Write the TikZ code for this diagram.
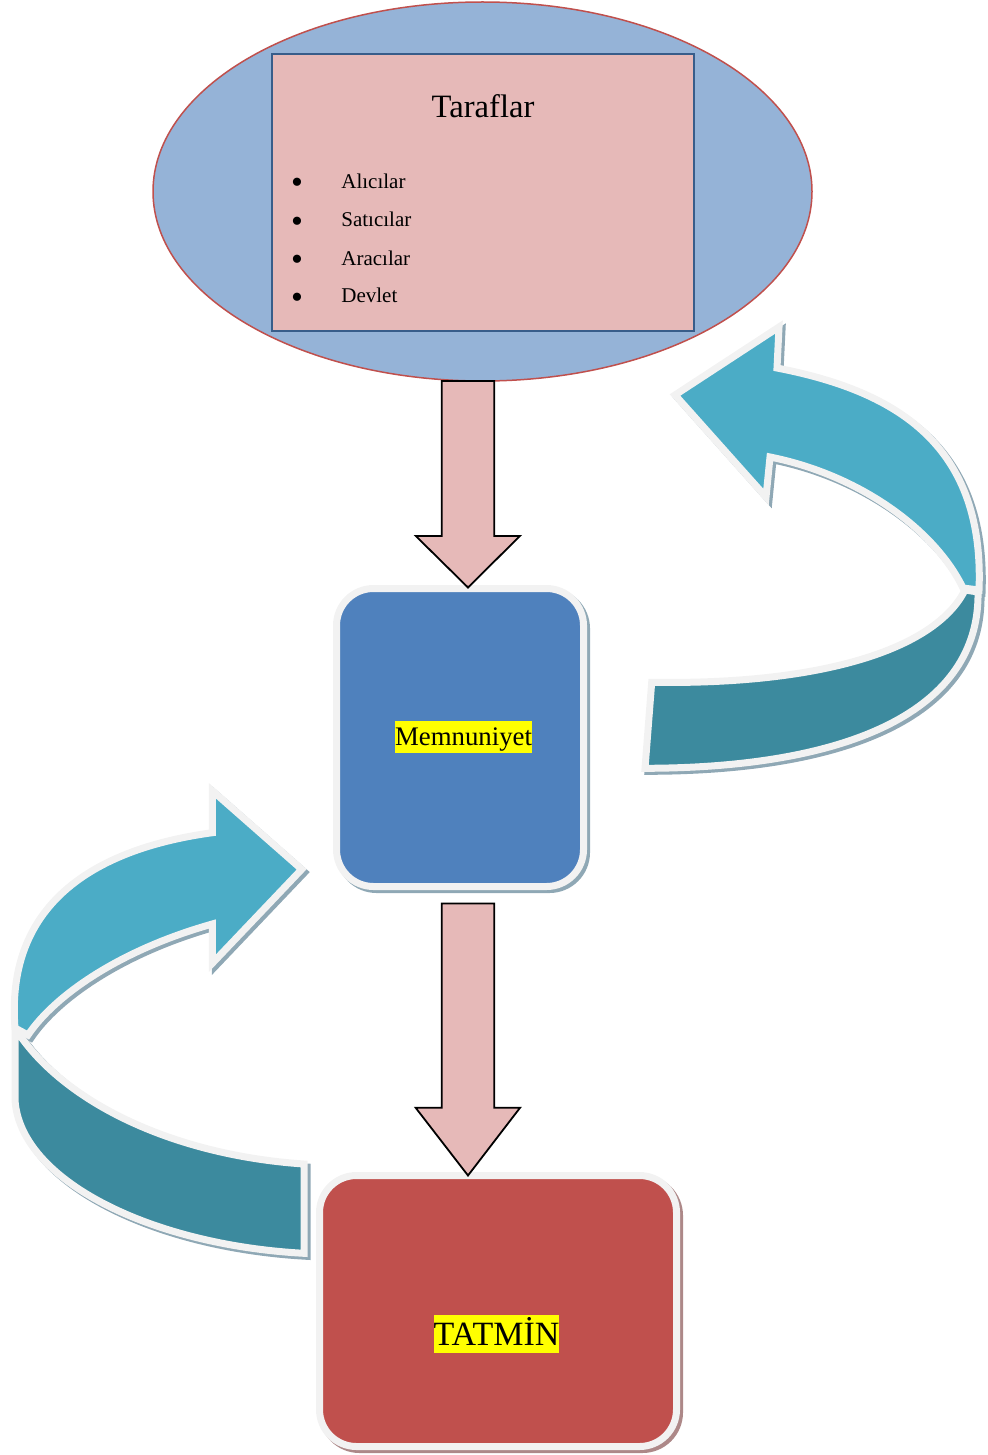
\documentclass[tikz,border=0pt]{standalone}
\usepackage{fontspec}
\setmainfont{Liberation Serif}
\usetikzlibrary{shapes.geometric,calc,backgrounds}

\definecolor{ovalfill}{HTML}{95B3D7}
\definecolor{ovalline}{HTML}{C0504D}
\definecolor{listfill}{HTML}{E6B9B8}
\definecolor{listline}{HTML}{385D8A}
\definecolor{satfill}{HTML}{4F81BD}
\definecolor{tatfill}{HTML}{C0504D}
\definecolor{rim}{HTML}{F2F2F2}
\definecolor{tealback}{HTML}{4BACC6}
\definecolor{tealfront}{HTML}{3C8A9E}
\definecolor{shadowblue}{HTML}{8FA8B5}
\definecolor{shadowred}{HTML}{AD8888}
\definecolor{hilite}{HTML}{FFFF00}

% Curved feedback ribbons: back (light) half with the head, front (dark) half with the tail
\newcommand\ribbonRback[1]{\path[#1] (675,395) -- (779,327) -- (777,368)
  .. controls (890,390) and (985,440) .. (979,590) -- (963,588)
  .. controls (935,530) and (860,475) .. (770,457) -- (766,497) -- cycle;}
\newcommand\ribbonRfront[1]{\path[#1] (651.7,682.3)
  .. controls (820,685) and (935,650) .. (965,590) -- (978,592)
  .. controls (980,710) and (850,768) .. (645,768.3) -- cycle;}
\newcommand\ribbonLback[1]{\path[#1] (301.7,869.3) -- (212.3,790.7) -- (212.3,832.7)
  .. controls (100,848) and (5,900) .. (15,1028) -- (28,1035)
  .. controls (55,995) and (120,950) .. (212.3,924) -- (212.3,963.3) -- cycle;}
\newcommand\ribbonLfront[1]{\path[#1] (15,1028)
  .. controls (60,1100) and (170,1155) .. (304,1164) -- (304,1253.3)
  .. controls (150,1245) and (20,1180) .. (15,1100) -- cycle;}

\begin{document}
\begin{tikzpicture}[x=0.5pt,y=-0.5pt,
  rimmed/.style={draw=rim,line width=3.5pt,line join=miter},
  ribshadow/.style={fill=shadowblue,draw=shadowblue,line width=3.5pt,shift={(3,3)}},
  stagebox/.style={rectangle,rounded corners=18.5pt,draw=rim,line width=3.5pt,
    inner sep=0pt,outer sep=0pt},
  blockarrow/.style={fill=listfill,draw=black,line width=0.9pt,line join=miter},
  marked/.style={fill=hilite,inner xsep=0pt,inner ysep=0pt,text=black},
  listitem/.style={anchor=base west,inner sep=0pt,font=\fontsize{10.5}{12}\selectfont},
  dot/.style={anchor=center,inner sep=0pt,font=\fontsize{17}{19}\selectfont}]

\useasboundingbox (0,0) rectangle (988,1455);

% Parties: oval with the list card on it
\node[ellipse,fill=ovalfill,draw=ovalline,line width=0.75pt,inner sep=0pt,outer sep=0pt,
  minimum width=329.5pt,minimum height=189.5pt] (parties) at (482.5,191.5) {};
\node[rectangle,fill=listfill,draw=listline,line width=1pt,inner sep=0pt,
  minimum width=211pt,minimum height=138.5pt] (list) at (483,192.5) {};
\node[anchor=base,inner sep=0pt,font=\fontsize{16.3}{19}\selectfont] (title) at (483,118) {Taraflar};
\node[dot] (d1) at (297,185.5) {•};
\node[dot] (d2) at (297,224.5) {•};
\node[dot] (d3) at (297,262.8) {•};
\node[dot] (d4) at (297,300.5) {•};
\node[listitem] (i1) at (341,188.3) {Alıcılar};
\node[listitem] (i2) at (341,226.7) {Satıcılar};
\node[listitem] (i3) at (341,265) {Aracılar};
\node[listitem] (i4) at (341,302) {Devlet};

% Stage boxes
\node[stagebox,fill=satfill,minimum width=123.5pt,minimum height=149pt] (mem) at (460,737.5) {};
\node[stagebox,fill=tatfill,minimum width=178.5pt,minimum height=135.5pt] (tat) at (498,1311) {};
\node[marked,text height=12.3pt,text depth=3.7pt,font=\fontsize{13.4}{15}\selectfont] (memtext) at (463.5,737) {Memnuniyet};
\node[marked,text height=14.8pt,text depth=3.8pt,font=\fontsize{17}{20}\selectfont,anchor=base] (tattext) at (496.5,1345) {TATMİN};

% Box shadows
\begin{scope}[on background layer]
  \draw[fill=shadowblue,draw=shadowblue,line width=3.5pt,rounded corners=18.5pt]
    ($(mem.south west)+(3,3)$) rectangle ($(mem.north east)+(3,3)$);
  \draw[fill=shadowred,draw=shadowred,line width=3.5pt,rounded corners=18.5pt]
    ($(tat.south west)+(3,3)$) rectangle ($(tat.north east)+(3,3)$);
\end{scope}

% Block arrows between the stages
\coordinate (axis) at (468,0);
\coordinate (s1) at (parties.south -| axis);
\coordinate (t1) at ($(mem.north -| axis)+(0,-1)$);
\coordinate (h1) at ($(t1)+(0,-51.6)$);
\coordinate (s2) at ($(mem.south -| axis)+(0,17)$);
\coordinate (t2) at (tat.north -| axis);
\coordinate (h2) at ($(t2)+(0,-67.7)$);
\draw[blockarrow] ($(s1)+(-26.3,0)$) -- ($(h1)+(-26.3,0)$) -- ($(h1)+(-52.3,0)$) -- (t1)
  -- ($(h1)+(52,0)$) -- ($(h1)+(26.3,0)$) -- ($(s1)+(26.3,0)$) -- cycle;
\draw[blockarrow] ($(s2)+(-26.3,0)$) -- ($(h2)+(-26.3,0)$) -- ($(h2)+(-52.3,0)$) -- (t2)
  -- ($(h2)+(52,0)$) -- ($(h2)+(26.3,0)$) -- ($(s2)+(26.3,0)$) -- cycle;

% Feedback ribbons
\ribbonRback{ribshadow}
\ribbonRfront{ribshadow}
\ribbonLback{ribshadow}
\ribbonLfront{ribshadow}
\ribbonRback{rimmed,fill=tealback}
\ribbonRfront{rimmed,fill=tealfront}
\ribbonLback{rimmed,fill=tealback}
\ribbonLfront{rimmed,fill=tealfront}
\end{tikzpicture}
\end{document}
